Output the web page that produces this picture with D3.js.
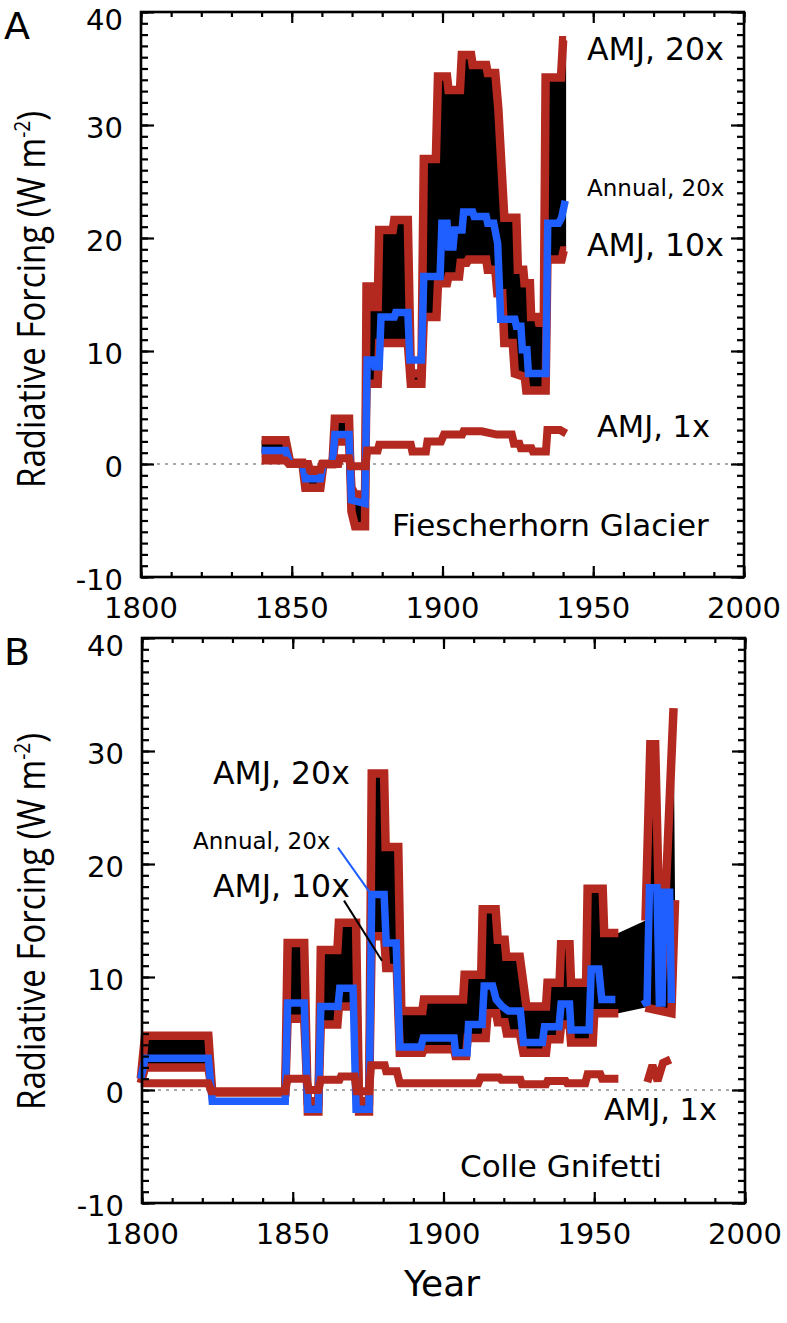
<!DOCTYPE html>
<html><head><meta charset="utf-8">
<script src="https://cdn.jsdelivr.net/npm/d3@7"></script>
<style>body{margin:0;background:#fff} svg{display:block}</style>
</head><body>
<svg id="c" width="787" height="1323"></svg>
<script>
// ---------- DATA (year, W m^-2) ----------
const xTickLabels = [1800, 1850, 1900, 1950, 2000];
const yTickLabels = [-10, 0, 10, 20, 30, 40];

// Panel A: Fiescherhorn Glacier
const A_amj20 = [[1840,2.1],[1848,2.1],[1849.5,0.1],[1853.5,0.1],[1854.5,-2.1],[1859.5,-2.1],[1860.5,0],[1863.5,0],[1864.3,4.0],[1869,4.0],[1869.8,-4.2],[1871,-5.5],[1874.3,-5.5],[1874.8,15.7],[1876.5,15.7],[1877,13.9],[1878.5,13.9],[1879,20.7],[1883.5,20.7],[1884,21.6],[1888.5,21.6],[1889.5,8.0],[1893,8.0],[1893.8,27.0],[1897.8,27.0],[1898.5,34.3],[1901.5,34.3],[1902,33.1],[1905.8,33.1],[1906.4,36.2],[1909.5,36.2],[1910,35.3],[1914.5,35.3],[1915,34.6],[1917.5,34.6],[1918.5,31.5],[1920.5,21.8],[1924.5,21.8],[1925,17.2],[1926.8,17.2],[1927.2,16.0],[1929,16.0],[1929.4,13.0],[1931.6,13.0],[1932,12.5],[1933.6,12.5],[1934.2,34.2],[1939.3,34.2],[1940,37.5],[1941,37.5]];
const A_amj10 = [[1840,1.0],[1848,1.0],[1849.5,0.05],[1853.5,0.05],[1854.5,-1.05],[1859.5,-1.05],[1860.5,0],[1863.5,0],[1864.3,2.0],[1869,2.0],[1869.8,-2.1],[1871,-2.7],[1874.3,-2.7],[1874.8,7.1],[1878.5,7.1],[1879,10.7],[1888.5,10.7],[1889.5,7.1],[1893,7.1],[1893.8,13.0],[1898,13.0],[1898.5,16.0],[1901.5,16.0],[1902,16.6],[1905.5,16.6],[1906,17.8],[1908,17.8],[1908.6,18.1],[1914.5,18.1],[1915,17.2],[1917.5,17.2],[1918.2,15.1],[1919.8,15.1],[1920.5,10.7],[1923.3,10.7],[1924,8.0],[1927.3,7.7],[1927.8,6.5],[1934.2,6.5],[1934.8,18.1],[1939.5,18.1],[1940.2,18.9],[1941,18.9]];
const A_ann20 = [[1840,1.2],[1848,1.2],[1849.5,0],[1853.5,0],[1854.5,-1.3],[1859.5,-1.3],[1860.5,0],[1863.5,0],[1864.3,2.6],[1869,2.6],[1869.8,-3.2],[1874.3,-3.5],[1875,9.2],[1877,9.2],[1877.5,8.6],[1879,8.6],[1879.6,13.0],[1884,13.0],[1884.5,13.4],[1888.5,13.4],[1889.2,9.2],[1893,9.2],[1893.8,16.6],[1899.2,16.6],[1899.8,21.3],[1901.5,21.3],[1902,19.2],[1903.5,19.2],[1904,20.7],[1906.5,20.7],[1907,22.3],[1910,22.3],[1910.5,21.9],[1914.5,21.9],[1915,21.3],[1917,21.3],[1918.3,19.5],[1919.3,12.8],[1924,12.8],[1924.5,12.2],[1926,12.2],[1926.5,10.1],[1928,10.1],[1928.5,8.0],[1934.3,8.0],[1934.9,21.3],[1938.5,21.3],[1939.5,21.8],[1940.7,23.3]];
const A_amj1 = [[1840,0.3],[1848,0.3],[1849,0],[1855.5,0],[1856,-0.5],[1859.5,-0.5],[1860,0],[1865.5,0],[1866,0.5],[1869,0.5],[1869.5,-0.2],[1874.5,-0.2],[1875,1.2],[1878.5,1.2],[1879,1.7],[1889.5,1.7],[1890,1.1],[1894.5,1.1],[1895,2.0],[1899.5,2.0],[1900.5,2.6],[1906.5,2.6],[1907,2.9],[1913,2.9],[1918,2.6],[1923,2.6],[1923.7,1.8],[1925.5,1.8],[1926,1.4],[1929.5,1.4],[1930,1.1],[1934.3,1.1],[1934.8,3.0],[1939,3.0],[1941,2.7]];

// Panel B: Colle Gnifetti (null = data gap)
const B_amj20 = [[1799.6,1.0],[1801,4.8],[1822,4.8],[1823.3,-0.2],[1847.5,-0.2],[1848.3,13.0],[1853.8,13.0],[1855,-1.9],[1858.5,-1.9],[1859.3,12.4],[1864.8,12.4],[1865.3,14.8],[1871,14.8],[1872,-1.9],[1875.3,-1.9],[1876.2,28.0],[1880.3,28.0],[1880.8,21.5],[1885,21.5],[1886,7.0],[1893,7.0],[1893.5,8.0],[1906.5,8.0],[1907,10.2],[1912.5,10.2],[1913,16.0],[1917.3,16.0],[1918,13.3],[1920.3,13.3],[1920.8,11.8],[1925.3,11.8],[1927.5,7.4],[1934,7.4],[1934.5,9.5],[1938.5,9.5],[1939,12.9],[1941.8,12.9],[1942.3,9.5],[1947.3,9.5],[1947.8,17.8],[1952.8,17.8],[1953.3,13.9],[1958,13.9],null,[1967,15.0],[1968.6,30.6],[1970.2,30.6],[1972.2,8.0],[1976.3,33.8]];
const B_amj10 = [[1799.6,0.6],[1801,2.0],[1822,2.0],[1823.3,-0.2],[1847.5,-0.2],[1848.3,6.3],[1853.8,6.3],[1855,-1.0],[1858.5,-1.0],[1859.3,5.8],[1864.8,5.8],[1865.3,7.4],[1871,7.4],[1872,-1.0],[1875.3,-1.0],[1876.2,13.6],[1880.3,13.6],[1881,10.8],[1884.5,10.8],[1885.5,3.3],[1893,3.3],[1893.5,3.6],[1903.5,3.6],[1904,3.0],[1907.5,3.0],[1908,4.6],[1914,4.6],[1914.6,6.8],[1917.5,6.8],[1918,6.0],[1920.3,6.0],[1921,5.0],[1925.3,5.0],[1926.5,3.3],[1934,3.3],[1934.5,4.5],[1938.5,4.5],[1939,5.8],[1941.8,5.8],[1942.3,4.2],[1949.5,4.2],[1950,6.8],[1958,6.8],null,[1967,7.3],[1975.6,6.8],[1976.8,16.8]];
const B_ann20 = [[1799.6,1.0],[1801,2.8],[1822,2.8],[1823.3,-1.0],[1847.5,-1.0],[1848.3,7.7],[1853.8,7.7],[1855,-1.7],[1858.5,-1.7],[1859.3,7.4],[1865,7.4],[1865.6,9.0],[1870,9.0],[1871,-1.7],[1875.3,-1.7],[1876.2,17.3],[1880.3,17.3],[1881,13.0],[1884.3,13.0],[1885.5,3.8],[1892.5,3.8],[1893.3,4.6],[1903.5,4.6],[1904,3.3],[1907.8,3.3],[1908.3,5.8],[1912.8,5.8],[1913.5,9.2],[1916.3,9.2],[1917.5,8.0],[1919.5,7.4],[1921.5,7.0],[1925.5,7.0],[1926.5,4.2],[1932.8,4.2],[1933.5,5.6],[1938.3,5.6],[1939,7.6],[1941.8,7.6],[1942.3,5.3],[1948.3,5.3],[1949,10.7],[1951.5,10.7],[1952.5,8.0],[1957,8.0],null,[1966.5,8.0],[1967.5,7.5],[1968.3,17.9],[1970.8,17.9],[1971.6,7.7],[1972.5,7.7],[1973,17.5],[1975,17.5],[1975.6,7.7]];
const B_amj1 = [[1799.6,0.6],[1822,0.6],[1823,-0.1],[1847.5,-0.1],[1848.3,1.0],[1854.5,1.0],[1855.3,0.0],[1858.5,0.0],[1859.3,0.9],[1865.5,0.9],[1866,1.2],[1870.5,1.2],[1871.2,-0.1],[1875.3,-0.1],[1876,2.2],[1880.5,2.2],[1881,1.65],[1884.5,1.65],[1885.5,0.6],[1911.5,0.6],[1912.3,1.1],[1918.5,1.1],[1919.2,0.9],[1925.5,0.9],[1926,0.5],[1934,0.5],[1934.5,0.8],[1940.5,0.8],[1941,0.6],[1947,0.6],[1947.8,1.4],[1952,1.4],[1952.6,1.0],[1958,1.0],null,[1967.6,0.7],[1969.3,2.2],[1971,0.8],[1972.8,2.4],[1975.3,2.7]];

// leader lines in panel B (data coords: [year, value] pairs)
const B_leaderAnnual = [[1865.0,21.45],[1875.6,17.46]];
const B_leaderAmj10 = [[1867.0,16.76],[1879.6,11.44]];

// ---------- DRAW ----------
const RED = '#b3281f', BLUE = '#1f5eff';
const FONT = '"DejaVu Sans", Verdana, sans-serif';
const svg = d3.select('#c');

const panels = [
  {letter:'A', top:12, bottom:577, left:141, right:744, titleShift:5,
   s20:A_amj20, s10:A_amj10, sAnn:A_ann20, s1:A_amj1,
   labels:[
     {t:'AMJ, 20x', x:587, y:60, fs:31.5},
     {t:'Annual, 20x', x:587, y:196, fs:23},
     {t:'AMJ, 10x', x:587, y:256, fs:31.5},
     {t:'AMJ, 1x', x:597, y:437, fs:30.5},
     {t:'Fiescherhorn Glacier', x:392, y:536, fs:31}
   ], leaders:[]},
  {letter:'B', top:638, bottom:1203, left:142, right:745, titleShift:1,
   s20:B_amj20, s10:B_amj10, sAnn:B_ann20, s1:B_amj1,
   labels:[
     {t:'AMJ, 20x', x:213, y:784, fs:31.5},
     {t:'Annual, 20x', x:193, y:849, fs:23},
     {t:'AMJ, 10x', x:213, y:897, fs:31.5},
     {t:'AMJ, 1x', x:604, y:1120, fs:30.5},
     {t:'Colle Gnifetti', x:460, y:1177, fs:31}
   ], leaders:[{d:B_leaderAnnual, c:BLUE},{d:B_leaderAmj10, c:'#000'}]}
];

panels.forEach((p, i) => {
  const g = svg.append('g');
  const x = d3.scaleLinear().domain([1800, 2000]).range([p.left, p.right]);
  const y = d3.scaleLinear().domain([-10, 40]).range([p.bottom, p.top]);
  const line = d3.line().defined(d => d !== null).x(d => x(d[0])).y(d => y(d[1]));

  // zero line
  g.append('line').attr('x1', x(1800)).attr('x2', x(2000)).attr('y1', y(0)).attr('y2', y(0))
    .attr('stroke', '#555').attr('stroke-width', 1.2).attr('stroke-dasharray', '3,5');

  // black band between AMJ 20x and AMJ 10x
  const up = p.s20.filter(d => d !== null), lo = p.s10.filter(d => d !== null).slice().reverse();
  g.append('path').attr('d', d3.line().x(d => x(d[0])).y(d => y(d[1]))(up.concat(lo)) + 'Z')
    .attr('fill', '#000');

  const drawLine = (data, color, w) => g.append('path').datum(data).attr('d', line)
    .attr('fill', 'none').attr('stroke', color).attr('stroke-width', w)
    .attr('stroke-linejoin', 'miter').attr('stroke-miterlimit', 3);
  drawLine(p.s20, RED, 8.5);
  drawLine(p.s10, RED, 8.5);
  drawLine(p.sAnn, BLUE, 7.5);
  drawLine(p.s1, RED, 8);

  // leader lines
  p.leaders.forEach(l => g.append('line')
    .attr('x1', x(l.d[0][0])).attr('y1', y(l.d[0][1]))
    .attr('x2', x(l.d[1][0])).attr('y2', y(l.d[1][1]))
    .attr('stroke', l.c).attr('stroke-width', 2));

  // frame
  g.append('rect').attr('x', p.left).attr('y', p.top)
    .attr('width', p.right - p.left).attr('height', p.bottom - p.top)
    .attr('fill', 'none').attr('stroke', '#000').attr('stroke-width', 2.6);

  // ticks (inward, all four sides)
  const tickStyle = sel => { sel.select('.domain').remove();
    sel.selectAll('line').attr('stroke', '#000').attr('stroke-width', 2.2); };
  const xMinor = d3.range(1800, 2001, 10), xMajor = d3.range(1800, 2001, 50);
  const yMinor = d3.range(-10, 41, 1), yMajor = d3.range(-10, 41, 10);
  [[d3.axisBottom, p.bottom], [d3.axisTop, p.top]].forEach(([ax, pos]) => {
    g.append('g').attr('transform', `translate(0,${pos})`)
      .call(ax(x).tickValues(xMinor).tickSize(-5).tickFormat('')).call(tickStyle);
    g.append('g').attr('transform', `translate(0,${pos})`)
      .call(ax(x).tickValues(xMajor).tickSize(-11).tickFormat('')).call(tickStyle);
  });
  [[d3.axisLeft, p.left], [d3.axisRight, p.right]].forEach(([ax, pos]) => {
    g.append('g').attr('transform', `translate(${pos},0)`)
      .call(ax(y).tickValues(yMinor).tickSize(-7).tickFormat('')).call(tickStyle);
    g.append('g').attr('transform', `translate(${pos},0)`)
      .call(ax(y).tickValues(yMajor).tickSize(-13).tickFormat('')).call(tickStyle);
  });

  // tick labels
  g.selectAll('text.xl').data(xTickLabels).join('text').attr('class', 'xl')
    .attr('x', d => x(d)).attr('y', p.bottom + 41).attr('text-anchor', 'middle')
    .attr('font-family', FONT).attr('font-size', 29).text(d => d);
  g.selectAll('text.yl').data(yTickLabels).join('text').attr('class', 'yl')
    .attr('x', p.left - 18).attr('y', d => y(d) + (d === 40 ? 8 : 3)).attr('dy', '0.35em')
    .attr('text-anchor', 'end')
    .attr('font-family', FONT).attr('font-size', 29).text(d => d);

  // panel letter
  g.append('text').attr('x', 4).attr('y', p.top + 27).attr('font-family', FONT)
    .attr('font-size', 38).text(p.letter);

  // y title
  const cy = (p.top + p.bottom) / 2 + p.titleShift;
  const yt = g.append('text').attr('transform', `translate(45,${cy}) rotate(-90)`)
    .attr('text-anchor', 'middle').attr('font-family', '"Open Sans", sans-serif').attr('font-size', 38)
    .attr('textLength', 377).attr('lengthAdjust', 'spacingAndGlyphs');
  yt.append('tspan').text('Radiative Forcing (W m');
  yt.append('tspan').attr('font-size', 22).attr('dy', -15).text('-2');
  yt.append('tspan').attr('dy', 15).text(')');

  // annotations
  p.labels.forEach(l => g.append('text').attr('x', l.x).attr('y', l.y)
    .attr('font-family', FONT).attr('font-size', l.fs).text(l.t));
});

// x title
svg.append('text').attr('x', 442).attr('y', 1296).attr('text-anchor', 'middle')
  .attr('font-family', FONT).attr('font-size', 36).text('Year');
</script>
</body></html>
